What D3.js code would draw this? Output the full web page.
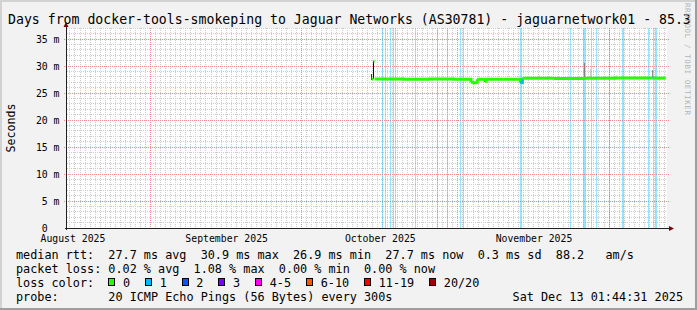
<!DOCTYPE html>
<html>
<head>
<meta charset="utf-8">
<script src="https://cdn.jsdelivr.net/npm/d3@7"></script>
<style>
  html, body { margin: 0; padding: 0; background: #f2f2f2; }
  svg { display: block; }
  text { font-family: "DejaVu Sans Mono", monospace; white-space: pre; }
</style>
</head>
<body>
<svg id="chart" width="697" height="310"></svg>
<script>
// smokeping graph data
const titleText = "Days from docker-tools-smokeping to Jaguar Networks (AS30781) - jaguarnetwork01 - 85.3";
const timeRange = ["2025-08-15T10:00", "2025-12-12T12:00"];
const yMax = 37.04;

const monthStarts = ["2025-08-01T00:00", "2025-09-01T00:00", "2025-10-01T00:00", "2025-11-01T00:00", "2025-12-01T00:00"];
const monthLabels = ["August 2025", "September 2025", "October 2025", "November 2025"];
const yTicks = [0, 5, 10, 15, 20, 25, 30, 35];
const yTickLabels = ["0  ", "5 m", "10 m", "15 m", "20 m", "25 m", "30 m", "35 m"];

// median rtt (ms), step values, loss count of each step
const medianTimes = [
  "2025-10-14T21:00", "2025-10-15T06:00", "2025-10-15T11:00", "2025-10-21T00:00",
  "2025-10-26T00:00", "2025-10-31T00:00", "2025-11-03T14:00", "2025-11-03T20:00",
  "2025-11-04T14:00", "2025-11-04T20:00", "2025-11-06T08:00", "2025-11-06T14:00",
  "2025-11-10T00:00", "2025-11-13T09:00", "2025-11-13T19:00", "2025-11-20T00:00",
  "2025-11-26T00:00", "2025-12-02T00:00", "2025-12-09T15:00", "2025-12-09T20:00",
  "2025-12-12T06:00"
];
const medianValues = [
  27.6, 30.9, 27.6, 27.55, 27.6, 27.55, 27.0, 26.9, 27.0, 27.55, 27.2, 27.55,
  27.55, 26.95, 27.75, 27.7, 27.75, 27.8, 27.75, 27.75, 27.75
];
const medianLoss = [0, 0, 0, 0, 0, 0, 0, 0, 0, 0, 0, 0, 0, 1, 0, 0, 0, 0, 1, 0, 0];

// smoke (spread of the 20 pings)
const smokeTimes = [
  "2025-10-14T19:00", "2025-10-15T04:00", "2025-11-03T15:00", "2025-11-06T07:00",
  "2025-11-13T08:00", "2025-11-17T06:00", "2025-11-19T21:00", "2025-11-26T03:00",
  "2025-11-27T07:00", "2025-11-30T19:00", "2025-12-02T11:00", "2025-12-09T16:00"
];
const smokeLow = [27.4, 27.6, 26.8, 27.0, 26.8, 27.7, 27.7, 27.8, 27.8, 27.8, 27.8, 27.8];
const smokeHigh = [28.6, 31.0, 27.2, 27.5, 27.6, 28.3, 28.2, 30.6, 29.4, 28.2, 28.3, 29.3];
const smokePings = [16, 19, 8, 12, 10, 2, 2, 9, 3, 2, 2, 8];

// periods with packet loss (1 of 20)
const lossStart = [
  "2025-10-16T22:00", "2025-10-17T13:00", "2025-10-18T12:00", "2025-10-19T03:00",
  "2025-10-19T14:00", "2025-10-23T11:00", "2025-10-27T20:00", "2025-10-29T20:00",
  "2025-11-01T10:00", "2025-11-02T02:00", "2025-11-13T09:00", "2025-11-23T08:00",
  "2025-11-25T20:00", "2025-11-27T12:00", "2025-11-28T09:00", "2025-11-30T23:00",
  "2025-12-03T16:00", "2025-12-08T17:00", "2025-12-09T15:00", "2025-12-10T05:00"
];
const lossEnd = [
  "2025-10-17T03:00", "2025-10-17T18:00", "2025-10-18T17:00", "2025-10-19T08:00",
  "2025-10-19T19:00", "2025-10-23T16:00", "2025-10-28T01:00", "2025-10-30T01:00",
  "2025-11-01T15:00", "2025-11-02T07:00", "2025-11-13T19:00", "2025-11-23T13:00",
  "2025-11-26T09:00", "2025-11-27T17:00", "2025-11-28T14:00", "2025-12-01T04:00",
  "2025-12-03T21:00", "2025-12-08T22:00", "2025-12-09T20:00", "2025-12-10T10:00"
];
const lossCount = [1, 1, 1, 1, 1, 1, 1, 1, 1, 1, 1, 1, 1, 1, 1, 1, 1, 1, 1, 1];

// legend
const lossLabels = ["0", "1", "2", "3", "4-5", "6-10", "11-19", "20/20"];
const lossColors = ["#26ff00", "#00b8ff", "#0059ff", "#7e00ff", "#ff00ea", "#ff5500", "#ff0000", "#a10000"];
const legendRtt = "median rtt:  27.7 ms avg  30.9 ms max  26.9 ms min  27.7 ms now  0.3 ms sd  88.2   am/s";
const legendLoss = "packet loss: 0.02 % avg  1.08 % max  0.00 % min  0.00 % now";
const legendProbe = "probe:       20 ICMP Echo Pings (56 Bytes) every 300s";
const legendDate = "Sat Dec 13 01:44:31 2025";

// ---------------------------------------------------------------
const W = 697, H = 310;
const plot = { left: 67, right: 667, top: 28, bottom: 228 };
const parse = d3.utcParse("%Y-%m-%dT%H:%M");
const px = v => Math.floor(v) + 0.5;
const charW = 11.8 * 0.602;

const x = d3.scaleUtc().domain(timeRange.map(parse)).range([plot.left, plot.right]);
const y = d3.scaleLinear().domain([0, yMax]).range([plot.bottom, plot.top]);
const lossColor = d3.scaleOrdinal().domain(d3.range(lossColors.length)).range(lossColors);
const smokeGray = d3.scaleLinear().domain([0, 20]).range(["#f0f0f0", "#000000"]);

const svg = d3.select("#chart");

svg.append("rect").attr("width", W).attr("height", H).attr("fill", "#f2f2f2");
svg.append("rect")
  .attr("x", plot.left).attr("y", plot.top)
  .attr("width", plot.right - plot.left).attr("height", plot.bottom - plot.top)
  .attr("fill", "#ffffff");

// grid
const grid = svg.append("g").attr("shape-rendering", "crispEdges").attr("stroke-dasharray", "1,1");
const days = d3.utcDay.range(...x.domain());
grid.selectAll(".minor-v").data(days).join("line")
  .attr("x1", d => px(x(d))).attr("x2", d => px(x(d)))
  .attr("y1", plot.top).attr("y2", plot.bottom)
  .attr("stroke", "#cccccc");
const minorY = d3.range(1, Math.floor(yMax) + 1).filter(v => v % 5 !== 0);
grid.selectAll(".minor-h").data(minorY).join("line")
  .attr("x1", plot.left).attr("x2", plot.right)
  .attr("y1", d => px(y(d))).attr("y2", d => px(y(d)))
  .attr("stroke", "#cccccc");

const months = monthStarts.map(parse).filter(d => d > x.domain()[0] && d < x.domain()[1]);
grid.selectAll(".major-v").data(months).join("line")
  .attr("x1", d => px(x(d))).attr("x2", d => px(x(d)))
  .attr("y1", plot.top).attr("y2", plot.bottom + 2)
  .attr("stroke", "#ec9090");
grid.selectAll(".major-h").data(yTicks.slice(1)).join("line")
  .attr("x1", plot.left - 3).attr("x2", plot.right + 2)
  .attr("y1", d => px(y(d))).attr("y2", d => px(y(d)))
  .attr("stroke", "#ec9090");

// loss stripes
svg.append("g").attr("shape-rendering", "crispEdges")
  .selectAll("rect").data(lossStart.map((s, i) => ({ s: parse(s), e: parse(lossEnd[i]), n: lossCount[i] })))
  .join("rect")
  .attr("x", d => x(d.s))
  .attr("width", d => Math.max(1, x(d.e) - x(d.s)))
  .attr("y", plot.top).attr("height", plot.bottom - plot.top)
  .attr("fill", d => lossColor(d.n))
  .attr("opacity", 0.4);

// smoke
const smokeStep = 5 * 3600 * 1000;
svg.append("g").attr("shape-rendering", "crispEdges")
  .selectAll("rect").data(smokeTimes.map((t, i) => ({ t: parse(t), lo: smokeLow[i], hi: smokeHigh[i], n: smokePings[i] })))
  .join("rect")
  .attr("x", d => Math.floor(x(d.t)))
  .attr("width", d => Math.max(1, Math.round(x(new Date(+d.t + smokeStep)) - x(d.t))))
  .attr("y", d => y(d.hi))
  .attr("height", d => y(d.lo) - y(d.hi))
  .attr("fill", d => smokeGray(d.n));

// median line, coloured by loss
const med = medianTimes.map((t, i) => ({ t: parse(t), v: medianValues[i], loss: medianLoss[i] }));
const segs = med.slice(0, -1).map((d, i) => {
  const next = med[i + 1];
  let p = `M${x(d.t)},${y(d.v)}H${x(next.t)}`;
  if (Math.abs(next.v - d.v) <= 1.5) p += `V${y(next.v)}`;
  return { path: p, loss: d.loss };
});
svg.append("g").selectAll("path").data(segs).join("path")
  .attr("d", d => d.path)
  .attr("fill", "none")
  .attr("stroke", d => lossColor(d.loss))
  .attr("stroke-width", 3);

// axes lines and arrows
const axisG = svg.append("g").attr("shape-rendering", "crispEdges");
axisG.append("line").attr("x1", plot.left - 2).attr("x2", plot.right + 3)
  .attr("y1", px(plot.bottom)).attr("y2", px(plot.bottom)).attr("stroke", "#202020");
axisG.append("line").attr("x1", px(plot.left - 1)).attr("x2", px(plot.left - 1))
  .attr("y1", plot.bottom + 2).attr("y2", plot.top - 2).attr("stroke", "#202020");
svg.append("path")
  .attr("d", `M${plot.left - 3.5},${plot.top - 1}L${plot.left + 1.5},${plot.top - 1}L${plot.left - 1},${plot.top - 6}Z`)
  .attr("fill", "#7f0000");
svg.append("path")
  .attr("d", `M${plot.right + 2},${plot.bottom - 2}L${plot.right + 2},${plot.bottom + 3}L${plot.right + 7},${plot.bottom + 0.5}Z`)
  .attr("fill", "#7f0000");

// y axis labels
svg.append("g")
  .attr("transform", "translate(59.5,0)")
  .call(d3.axisLeft(y).tickValues(yTicks).tickSize(0).tickPadding(0).tickFormat((d, i) => yTickLabels[i]))
  .call(g => g.select(".domain").remove())
  .selectAll("text")
  .attr("font-family", "DejaVu Sans Mono")
  .attr("font-size", 9.8)
  .attr("fill", "#000");

// month labels centred in each month
const monthMids = monthLabels.map((_, i) => {
  const a = parse(monthStarts[i]), b = parse(monthStarts[i + 1]);
  return new Date((+a + +b) / 2);
});
svg.append("g")
  .attr("transform", `translate(0,${plot.bottom + 7})`)
  .call(d3.axisBottom(x).tickValues(monthMids).tickSize(0).tickPadding(0).tickFormat((d, i) => monthLabels[i]))
  .call(g => g.select(".domain").remove())
  .selectAll("text")
  .attr("font-family", "DejaVu Sans Mono")
  .attr("font-size", 9.8)
  .attr("fill", "#000");

// vertical axis title
svg.append("text")
  .attr("transform", `translate(14.5,${(plot.top + plot.bottom) / 2}) rotate(-90)`)
  .attr("text-anchor", "middle")
  .attr("font-size", 11.6)
  .attr("fill", "#000")
  .text("Seconds");

// title
svg.append("text")
  .attr("x", 8).attr("y", 24)
  .attr("font-size", 13.2)
  .attr("fill", "#000")
  .text(titleText);

// legend
const legendX = 16;
const legend = svg.append("g").attr("font-size", 11.8).attr("fill", "#000");
legend.append("text").attr("x", legendX).attr("y", 258.5).text(legendRtt);
legend.append("text").attr("x", legendX).attr("y", 272.5).text(legendLoss);
legend.append("text").attr("x", legendX).attr("y", 286.5).text("loss color:");
legend.append("text").attr("x", legendX).attr("y", 300.5).text(legendProbe);
legend.append("text").attr("x", 683).attr("y", 300.5).attr("text-anchor", "end").text(legendDate);

let bx = legendX + 13 * charW;
lossLabels.forEach((lab, i) => {
  legend.append("rect")
    .attr("x", Math.round(bx) + 0.5).attr("y", 278.5)
    .attr("width", 6).attr("height", 7)
    .attr("fill", lossColors[i])
    .attr("stroke", "#000").attr("stroke-width", 1)
    .attr("shape-rendering", "crispEdges");
  const tx = bx + 14.6;
  legend.append("text").attr("x", tx).attr("y", 286.5).text(lab);
  bx = tx + lab.length * charW + 15;
});

// watermark
svg.append("text")
  .attr("transform", "translate(684.5,3) rotate(90)")
  .attr("font-size", 7.5)
  .attr("letter-spacing", 0.6)
  .attr("fill", "#b4b4b4")
  .text("RRDTOOL / TOBI OETIKER");

// frame shading
svg.append("path").attr("d", `M0,0H${W}V2H2V${H}H0Z`).attr("fill", "#d2d2d2");
svg.append("path").attr("d", `M${W},${H}H0V${H - 2}H${W - 2}V0H${W}Z`).attr("fill", "#9e9e9e");
</script>
</body>
</html>
